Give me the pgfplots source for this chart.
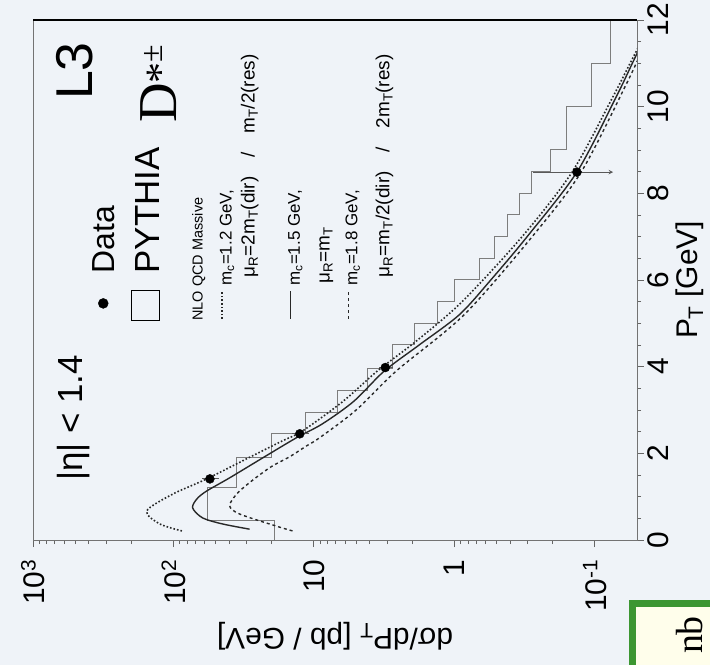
\documentclass[border=0pt]{standalone}
\usepackage{pgfplots}
\pgfplotsset{compat=1.18}
\usepackage{fontspec}
\setmainfont{Liberation Sans}
\newfontfamily\seriffont{Liberation Serif}
\newcommand\fs[1]{\fontsize{#1}{#1}\selectfont}
\definecolor{bg}{RGB}{239,243,248}
\definecolor{histc}{RGB}{125,125,125}
\definecolor{boxgreen}{RGB}{60,150,50}
\definecolor{curvec}{RGB}{40,40,40}
\begin{document}
\begin{tikzpicture}
\useasboundingbox (0,0) rectangle (710bp,665bp);
\fill[bg] (0,0) rectangle (710bp,665bp);
\fill[yellow!8!white] (634bp,-10bp) rectangle (720bp,58bp);
\draw[boxgreen, line width=7bp] (632bp,-10bp) -- (632bp,61bp) -- (720bp,61bp);
\node[rotate=90, font=\seriffont\fs{38}] at (690bp,30bp) {nb};
\begin{scope}[shift={(637bp,125bp)}, rotate=90, transform shape]
\begin{axis}[
  at={(0,0)}, anchor=south west,
  scale only axis, width=520bp, height=604bp,
  xmin=0, xmax=12, ymin=0.05, ymax=1000, ymode=log,
  xtick={0,2,...,12}, minor x tick num=3,
  ytick={0.1,1,10,100,1000},
  yticklabels={10\textsuperscript{-1},1,10,10\textsuperscript{2},10\textsuperscript{3}},
  /pgf/number format/assume math mode=true,
  tick align=outside, xtick pos=lower, ytick pos=lower,
  major tick length=7bp, minor tick length=4bp,
  every tick/.style={black!60, line width=0.8bp},
  axis line style={black!55, line width=0.9bp},
  tick label style={font=\fs{30}},
  yticklabel style={xshift=-9bp},
  xlabel={P\textsubscript{T} [GeV]},
  ylabel={dσ/dP\textsubscript{T} [pb / GeV]},
  label style={font=\fs{30}},
  ylabel style={yshift=4bp},
  axis background/.style={fill=bg},
]
% PYTHIA histogram
\addplot[const plot, histc, line width=1.0bp] coordinates {
(0,19.1) (0.45,57) (1.2,35.5) (1.9,20) (2.45,11.5) (2.95,6.8) (3.45,4.16)
(3.95,2.76) (4.5,1.93) (5,1.32) (5.5,1.0) (6,0.665) (6.5,0.52) (7,0.42)
(7.5,0.346) (8,0.284) (8.5,0.205) (9,0.158) (10,0.106) (11,0.077) (12,0.077)};
% NLO m_c=1.2 (dotted)
\addplot[smooth, curvec, line width=1.6bp, dotted] coordinates {
(0.21,87) (0.37,125) (0.67,155) (1.06,101) (1.41,58) (1.99,25.6) (2.29,16.7)
(2.52,12) (3.2,6.2) (3.9,3.53) (4.6,1.85) (5.5,0.88) (7.0,0.329) (8.49,0.145)
(10.2,0.075) (11.0,0.056) (11.6,0.045)};
% NLO m_c=1.5 (solid)
\addplot[smooth, curvec, line width=1.4bp] coordinates {
(0.25,28.7) (0.37,44.7) (0.51,62) (0.74,73) (0.95,68) (1.13,58) (1.43,40)
(1.9,23) (2.36,13.3) (2.68,8.7) (3.2,5.2) (3.9,3.15) (4.5,1.78) (5.2,0.92)
(6.0,0.55) (7.0,0.303) (8.49,0.134) (10.2,0.071) (11.0,0.054) (11.6,0.044)};
% NLO m_c=1.8 (dashed)
\addplot[smooth, curvec, line width=1.4bp, dashed] coordinates {
(0.21,14.2) (0.32,18.5) (0.60,33.8) (0.79,39.8) (1.06,35.5) (1.27,30.1)
(1.50,24.4) (1.71,19.7) (1.92,14.9) (2.17,11.3) (2.36,9.1) (3.0,5.0)
(3.9,2.59) (5.2,0.85) (7.0,0.279) (8.49,0.125) (10.5,0.06) (11.3,0.046)};
% Data
\addplot[only marks, mark=*, mark size=4.5bp, black,
  error bars/.cd, y dir=both, y explicit, error mark=none,
  error bar style={black!65, line width=1bp}] coordinates {
(1.41,55) +- (0,8)
(2.45,12.6) +- (0,1.8)
(3.98,3.1) +- (0,0.35)
(8.49,0.134) += (0,0.14) -= (0,0)};
\draw[black!65, line width=1bp, -stealth] (axis cs:8.49,0.134) -- (axis cs:8.49,0.074);
\draw[line width=2.2bp, black] (axis cs:12,0.05) -- (axis cs:12,1000);
% legend / texts
\addplot[only marks, mark=*, mark size=5bp, black] coordinates {(5.46,316)};
\node[anchor=base west, font=\fs{32}, inner sep=0] at (axis cs:6.15,261) {Data};
\draw[black, line width=1.3bp] (axis cs:5.06,126) rectangle (axis cs:5.76,200);
\node[anchor=base west, font=\fs{35}, inner sep=0] at (axis cs:6.15,125) {PYTHIA};
\node[anchor=base west, font=\seriffont\fs{55}, inner sep=0] at (axis cs:9.62,95)
  {D{\fs{42}\raisebox{2bp}{*}}{\fs{32}\raisebox{14bp}{±}}};
\node[anchor=base west, font=\fs{52}, inner sep=0] at (axis cs:10.15,375) {L3};
\node[anchor=base west, font=\fs{35}, inner sep=0] at (axis cs:1.36,441) {|η| < 1.4};
\node[anchor=base west, font=\fs{14.5}, inner sep=0] at (axis cs:5.06,62) {NLO QCD Massive};
\draw[curvec, dotted, line width=1.6bp] (axis cs:5.1,45) -- (axis cs:5.75,45);
\node[anchor=base west, font=\fs{17}, inner sep=0] at (axis cs:5.87,38.6) {m\textsubscript{c}=1.2 GeV,};
\node[anchor=base west, font=\fs{19}, inner sep=0] at (axis cs:6.06,26.4)
  {μ\textsubscript{R}=2m\textsubscript{T}(dir)\quad/\quad m\textsubscript{T}/2(res)};
\draw[curvec, line width=1.4bp] (axis cs:5.1,14.7) -- (axis cs:5.75,14.7);
\node[anchor=base west, font=\fs{17}, inner sep=0] at (axis cs:5.87,12.6) {m\textsubscript{c}=1.5 GeV,};
\node[anchor=base west, font=\fs{19}, inner sep=0] at (axis cs:5.92,7.74) {μ\textsubscript{R}=m\textsubscript{T}};
\draw[curvec, dashed, line width=1.4bp] (axis cs:5.1,5.68) -- (axis cs:5.75,5.68);
\node[anchor=base west, font=\fs{17}, inner sep=0] at (axis cs:5.87,4.9) {m\textsubscript{c}=1.8 GeV,};
\node[anchor=base west, font=\fs{19}, inner sep=0] at (axis cs:6.06,2.9)
  {μ\textsubscript{R}=m\textsubscript{T}/2(dir)\quad/\quad 2m\textsubscript{T}(res)};
\end{axis}
\end{scope}
\end{tikzpicture}
\end{document}
